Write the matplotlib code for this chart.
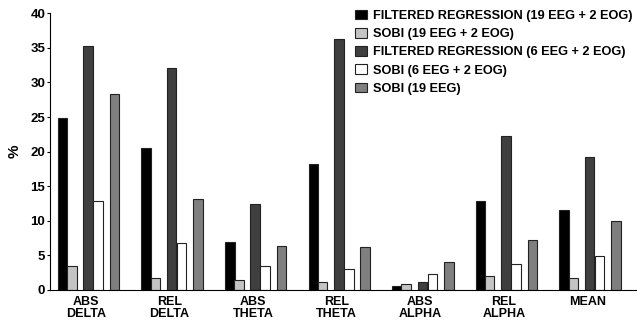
import matplotlib
matplotlib.use("Agg")
import matplotlib.pyplot as plt
import numpy as np

categories = ["ABS\nDELTA", "REL\nDELTA", "ABS\nTHETA", "REL\nTHETA", "ABS\nALPHA", "REL\nALPHA", "MEAN"]
series_names = ["FILTERED REGRESSION (19 EEG + 2 EOG)", "SOBI (19 EEG + 2 EOG)",
                "FILTERED REGRESSION (6 EEG + 2 EOG)", "SOBI (6 EEG + 2 EOG)", "SOBI (19 EEG)"]
fr19 = [24.8, 20.5, 6.9, 18.2, 0.55, 12.9, 11.55]
sobi19eog = [3.5, 1.8, 1.45, 1.2, 0.85, 2.05, 1.75]
fr6 = [35.3, 32.1, 12.4, 36.3, 1.15, 22.3, 19.2]
sobi6 = [12.85, 6.8, 3.4, 3.0, 2.3, 3.8, 4.9]
sobi19 = [28.4, 13.2, 6.35, 6.2, 4.05, 7.2, 9.95]
yticks = [0, 5, 10, 15, 20, 25, 30, 35, 40]

series = [fr19, sobi19eog, fr6, sobi6, sobi19]
colors = ["#000000", "#c4c4c4", "#3f3f3f", "#ffffff", "#7f7f7f"]
offsets = [-0.28, -0.17, 0.024, 0.144, 0.34]
width = 0.114

plt.rcParams['font.family'] = ['Liberation Sans', 'DejaVu Sans']
plt.rcParams['font.weight'] = 'bold'

fig = plt.figure(figsize=(6.37, 3.26), dpi=100)
ax = fig.add_axes([50/637, 1-290/326, (636-50)/637, (290-13.3)/326])
x = np.arange(len(categories))
for vals, c, off, name in zip(series, colors, offsets, series_names):
    ax.bar(x + off, vals, width, color=c, edgecolor="#222222", linewidth=0.8, label=name)

ax.set_xlim(-0.431, 6.58)
ax.set_ylim(0, 40)
ax.set_yticks(yticks)
ax.set_xticks(x)
ax.set_xticklabels(categories, fontsize=9, fontweight='bold', linespacing=1.1)
ax.tick_params(axis='x', length=0, pad=4)
ax.tick_params(axis='y', length=2.5, labelsize=9.5, width=0.8, pad=1)
for lab in ax.get_yticklabels():
    lab.set_fontweight('bold')
ax.set_ylabel("%", fontsize=11, fontweight='bold', labelpad=6)
ax.spines['top'].set_visible(False)
ax.spines['right'].set_visible(False)
ax.spines['left'].set_linewidth(0.8)
ax.spines['bottom'].set_linewidth(0.8)

leg = ax.legend(loc='upper left', bbox_to_anchor=(0.521, 1.013), frameon=False,
                prop={'size': 9.2, 'weight': 'bold'}, handlelength=0.88, handleheight=0.8,
                handletextpad=0.5, labelspacing=0.46, borderaxespad=0, borderpad=0)

fig.savefig("out.png", dpi=100)
